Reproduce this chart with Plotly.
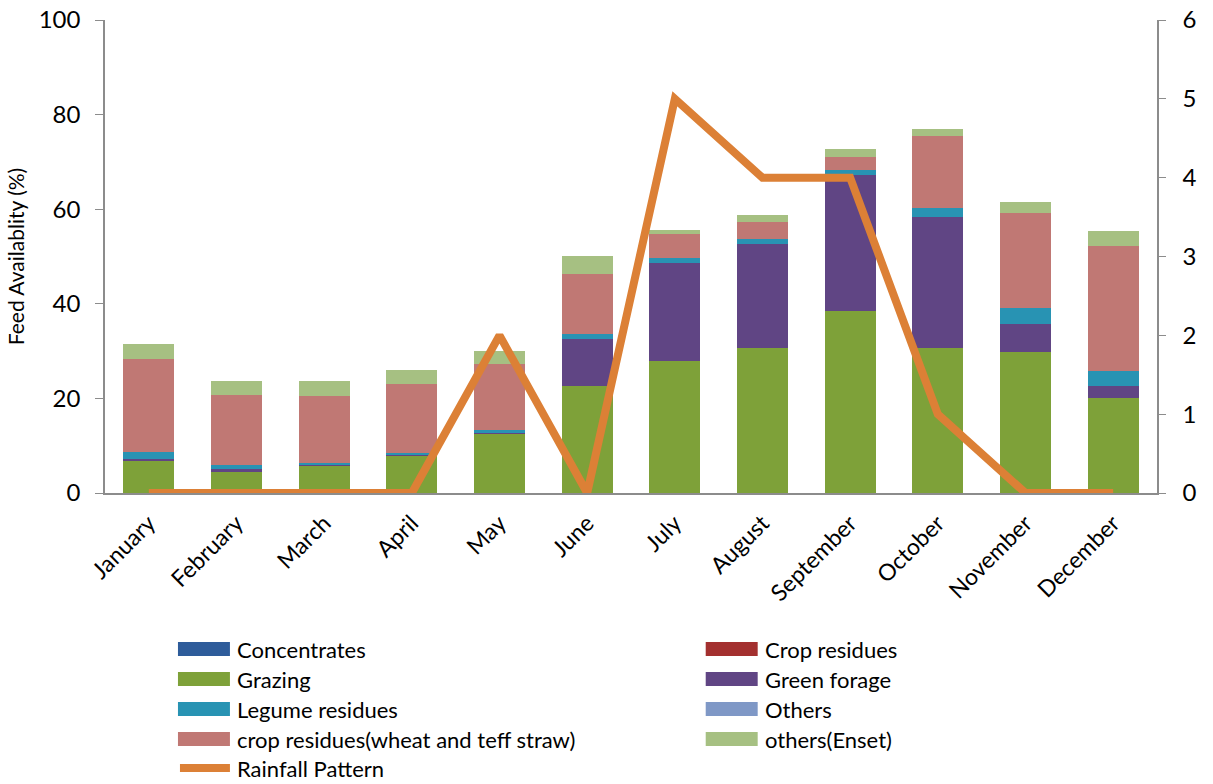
import plotly.graph_objects as go

months = ["January", "February", "March", "April", "May", "June", "July",
          "August", "September", "October", "November", "December"]

concentrates = [0, 0, 0, 0, 0, 0, 0, 0, 0, 0, 0, 0]
crop_residues = [0, 0, 0, 0, 0, 0, 0, 0, 0, 0, 0, 0]
grazing = [6.8, 4.6, 5.8, 7.9, 12.5, 22.6, 27.9, 30.7, 38.5, 30.7, 29.9, 20.1]
green_forage = [0.4, 0.4, 0.3, 0.1, 0.2, 9.9, 20.7, 21.9, 28.7, 27.6, 5.9, 2.6]
legume_residues = [1.5, 0.9, 0.2, 0.5, 0.7, 1.1, 1.1, 1.1, 1.1, 2.0, 3.4, 3.1]
others = [0, 0, 0, 0, 0, 0, 0, 0, 0, 0, 0, 0]
crop_wheat_teff = [19.6, 14.8, 14.2, 14.5, 13.9, 12.8, 5.0, 3.7, 2.7, 15.2, 19.9, 26.5]
others_enset = [3.2, 3.0, 3.2, 3.0, 2.7, 3.8, 1.0, 1.4, 1.7, 1.5, 2.4, 3.1]
rainfall = [0, 0, 0, 0, 2, 0, 5, 4, 4, 1, 0, 0]

series = [
    ("Concentrates", concentrates, "#2E5C9A"),
    ("Crop residues", crop_residues, "#A3302F"),
    ("Grazing", grazing, "#7EA139"),
    ("Green forage", green_forage, "#604584"),
    ("Legume residues", legume_residues, "#2893B3"),
    ("Others", others, "#7F98C6"),
    ("crop residues(wheat and teff straw)", crop_wheat_teff, "#C07874"),
    ("others(Enset)", others_enset, "#A6C082"),
]
rain_name = "Rainfall Pattern"
rain_color = "#DC8036"

FONT = "Lato, 'Open Sans', sans-serif"
W, H = 1213, 784
L, R, T, B = 105, 1157.5, 20, 493

fig = go.Figure()
for name, vals, col in series:
    fig.add_trace(go.Bar(x=months, y=vals, name=name, marker=dict(color=col, line=dict(width=0)),
                         showlegend=False))
fig.add_trace(go.Scatter(x=months, y=rainfall, name=rain_name, yaxis="y2", mode="lines",
                         line=dict(color=rain_color, width=8), showlegend=False))

def px_x(p):
    return (p - L) / (R - L)

def px_y(p):
    return (B - p) / (B - T)

shapes = []
annotations = []
rows = [649, 679, 709, 739]
cols = [(178, 235), (706, 763)]
for i, (name, vals, col) in enumerate(series):
    r = rows[i // 2]
    sx, tx = cols[i % 2]
    shapes.append(dict(type="rect", xref="paper", yref="paper",
                       x0=px_x(sx), x1=px_x(sx + 52), y0=px_y(r - 7), y1=px_y(r + 7),
                       fillcolor=col, line=dict(width=0)))
    annotations.append(dict(text=name, xref="paper", yref="paper", x=px_x(tx), y=px_y(r),
                            xanchor="left", yanchor="middle", showarrow=False,
                            font=dict(family=FONT, size=22, color="#000")))
shapes.append(dict(type="line", xref="paper", yref="paper",
                   x0=px_x(180), x1=px_x(230), y0=px_y(768), y1=px_y(768),
                   line=dict(color=rain_color, width=8)))
annotations.append(dict(text=rain_name, xref="paper", yref="paper", x=px_x(235), y=px_y(768),
                        xanchor="left", yanchor="middle", showarrow=False,
                        font=dict(family=FONT, size=22, color="#000")))

fig.update_layout(
    width=W, height=H,
    margin=dict(l=L, r=W - R, t=T, b=H - B, pad=0, autoexpand=False),
    paper_bgcolor="white", plot_bgcolor="white",
    barmode="stack", bargap=0.42,
    font=dict(family=FONT, size=23, color="#000"),
    showlegend=False,
    xaxis=dict(showline=True, linecolor="#8C8C8C", linewidth=1.5, ticks="", tickangle=-45,
               tickfont=dict(size=23), showgrid=False, automargin=False, ticklabelstandoff=6),
    yaxis=dict(range=[0, 100], dtick=20, showline=True, linecolor="#8C8C8C", linewidth=1.5,
               ticks="outside", ticklen=8, tickcolor="#8C8C8C", showgrid=False, zeroline=False,
               tickfont=dict(size=24), automargin=False, ticklabelstandoff=10,
               title=dict(text="Feed Availablity (%)", font=dict(size=21), standoff=8)),
    yaxis2=dict(range=[0, 6], dtick=1, overlaying="y", side="right", showline=True,
                linecolor="#8C8C8C", linewidth=1.5, ticks="outside", ticklen=7,
                tickcolor="#8C8C8C", showgrid=False, zeroline=False, tickfont=dict(size=24),
                automargin=False, ticklabelstandoff=12),
    shapes=shapes, annotations=annotations,
)

fig.write_html("out.html")
